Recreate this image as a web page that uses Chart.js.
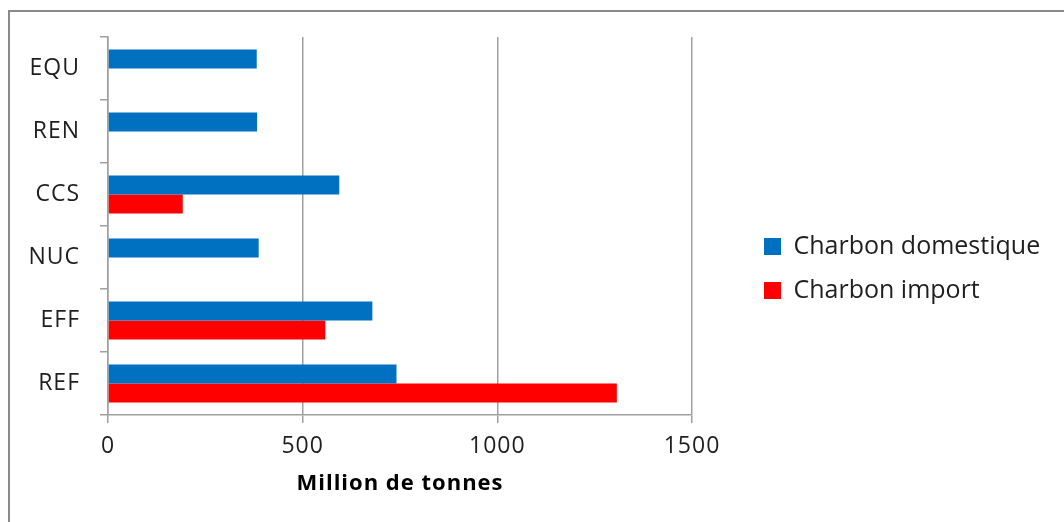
<!DOCTYPE html>
<html>
<head>
<meta charset="utf-8">
<script src="https://cdn.jsdelivr.net/npm/chart.js@4"></script>
<style>
  html, body { margin: 0; padding: 0; background: #fff; }
  #wrap { position: relative; width: 1064px; height: 522px; overflow: hidden; }
  #frame { position: absolute; left: 8px; top: 10px; width: 1200px; height: 600px;
           border-top: 2px solid #8a8a8a; border-left: 2px solid #8a8a8a; pointer-events: none; }
  canvas { position: absolute; left: 0; top: 0; }
</style>
</head>
<body>
<div id="wrap">
  <canvas id="chart" width="1064" height="522"></canvas>
  <div id="frame"></div>
</div>
<script>
const categories = ["EQU", "REN", "CCS", "NUC", "EFF", "REF"];
const domestique = [382, 383, 594, 387, 679, 741];
const importe = [null, null, 192, null, 558, 1307];
const xTicks = [0, 500, 1000, 1500];

// Excel-like wide lettering on the axes
const spacing = {
  id: 'spacing',
  beforeLayout(chart) { chart.ctx.letterSpacing = '1px'; },
  beforeDraw(chart) { chart.ctx.letterSpacing = '1px'; }
};

// fixed legend width so the plot ends at the same place, then move the legend
const LEGEND_W = 330;
const legendPos = {
  id: 'legendPos',
  beforeLayout(chart) {
    const lg = chart.legend;
    if (lg && !lg._fixed) {
      const fit = lg.fit;
      lg.fit = function () {
        const c = this.ctx, ls = c.letterSpacing;
        c.letterSpacing = '0px';
        fit.call(this);
        c.letterSpacing = ls;
        this.width = LEGEND_W;
      };
      const draw = lg.draw;
      lg.draw = function () {
        const c = this.ctx, ls = c.letterSpacing;
        c.letterSpacing = '0px';
        draw.call(this);
        c.letterSpacing = ls;
      };
      lg._fixed = true;
    }
  },
  afterLayout(chart) {
    const lg = chart.legend;
    const h = lg.height;
    lg.left = 745; lg.right = lg.left + LEGEND_W;
    lg.top = 26; lg.bottom = 26 + h;
  }
};

const ctx = document.getElementById('chart').getContext('2d');
new Chart(ctx, {
  type: 'bar',
  data: {
    labels: categories,
    datasets: [
      { label: 'Charbon domestique', data: domestique, backgroundColor: '#0070C0' },
      { label: 'Charbon import', data: importe, backgroundColor: '#FF0000' }
    ]
  },
  options: {
    indexAxis: 'y',
    responsive: false,
    animation: false,
    categoryPercentage: 0.6,
    barPercentage: 1.0,
    layout: { padding: { top: 37, left: 0, right: 1064 - 692 - LEGEND_W, bottom: 0 } },
    plugins: {
      tooltip: { enabled: false },
      legend: {
        position: 'right',
        labels: {
          boxWidth: 17, boxHeight: 17, padding: 19,
          color: '#1f1f1f',
          font: { family: 'Open Sans', size: 25 }
        }
      }
    },
    scales: {
      x: {
        min: 0, max: 1500,
        afterBuildTicks: s => { s.ticks = xTicks.map(v => ({ value: v })); },
        afterFit: s => { s.height = 107; },
        grid: { color: '#a0a0a0', lineWidth: 1.5, tickLength: 8 },
        border: { color: '#a0a0a0', width: 1.5 },
        ticks: {
          color: '#1f1f1f', padding: 10, font: { family: 'Open Sans', size: 23 },
          callback: v => String(v)
        },
        title: {
          display: true, text: 'Million de tonnes', color: '#000',
          font: { family: 'Open Sans', size: 22, weight: 'bold' },
          padding: { top: 4, bottom: 25 }
        }
      },
      y: {
        afterFit: s => { s.width = 108; },
        grid: { drawOnChartArea: false, color: '#a0a0a0', lineWidth: 1.5, tickLength: 8 },
        border: { color: '#a0a0a0', width: 1.5 },
        ticks: { color: '#1f1f1f', padding: 20, font: { family: 'Open Sans', size: 23 } }
      }
    }
  },
  plugins: [spacing, legendPos]
});
</script>
</body>
</html>
